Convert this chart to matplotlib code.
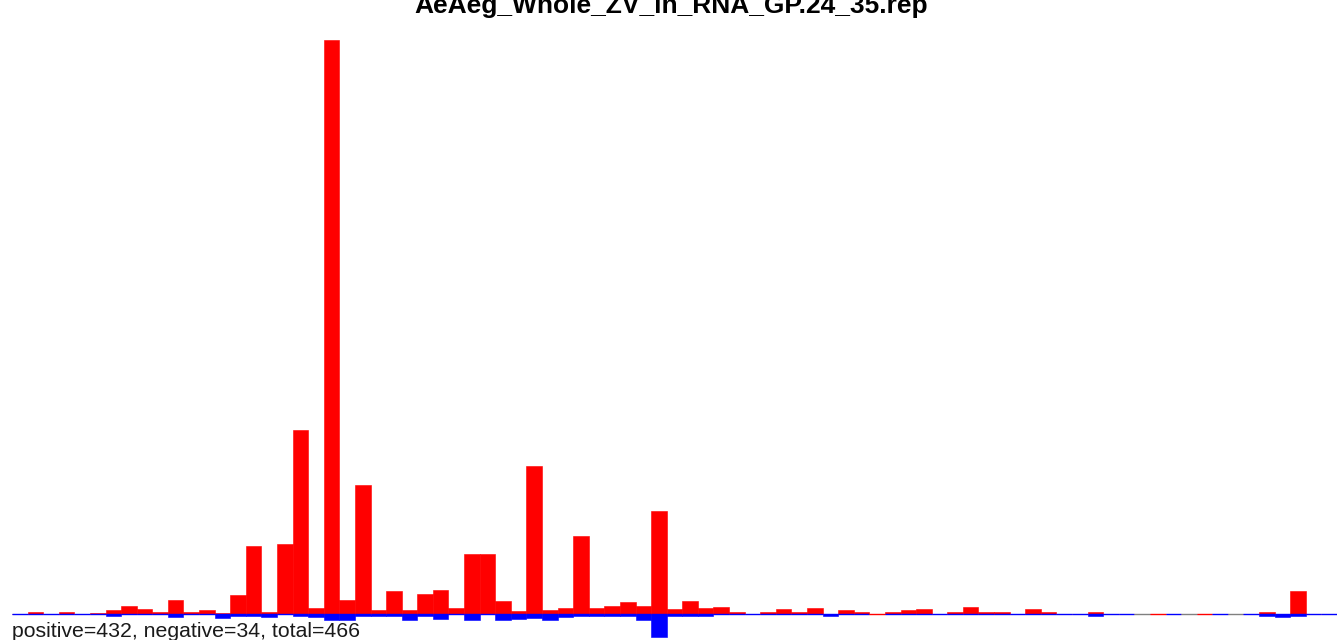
import numpy as np
import matplotlib
matplotlib.use("Agg")
import matplotlib.pyplot as plt

plt.rcParams['font.family'] = ['Liberation Sans', 'DejaVu Sans']

title = "AeAeg_Whole_ZV_lh_RNA_GP.24_35.rep"
summary = "positive=432, negative=34, total=466"

# bar heights (arbitrary units, no y axis shown), 85 bins
positive = [0, 2, 0, 2, 0, 1.5, 4, 8, 5, 2,
            14, 2, 4, 1.5, 19, 68, 2, 70, 184, 6,
            574, 14, 129, 4, 23, 4, 20, 24, 6, 60,
            60, 13, 3, 148, 4, 6, 78, 6, 8, 12,
            8, 103, 5, 13, 6, 7, 2, 0, 2, 5,
            2, 6, 0, 4, 2, 0.5, 2, 4, 5, 0,
            2, 7, 2, 2, 0, 5, 2, 0, 0, 2,
            0, 0, 0, 0, 0, 0, 0, 0, 0, 0,
            2, 0, 23, 0, 0]
negative = [0, 0, 0, 0, 0, 0, -2, 0, 0, 0,
            -3, 0, 0, -4, -1.5, -1.5, -3, 0, -1.5, -3,
            -6, -6, -1.5, -1.5, -1.5, -6, -1.5, -5, 0, -6,
            0, -6, -5, -4, -6, -3, -1.5, -1.5, -2, -1.5,
            -6, -23, -2, -2, -2, 0, 0, 0, 0, 0,
            0, 0, -2, 0, 0, 0, 0, 0, 0, 0,
            0, 0, 0, 0, 0, 0, 0, 0, 0, -1.5,
            0, 0, 0, 0, 0, 0, 0, 0, 0, 0,
            -1.5, -3, -1.5, 0, 0]
# bins where the baseline segment is not blue
gray_bins = [72, 75, 78]
red_line_bins = [55, 73, 76]

n = len(positive)
x = np.arange(n)

fig = plt.figure(figsize=(13.37, 6.4), dpi=100)
ax = fig.add_axes([12 / 1337, 0, 1 - 12 / 1337, 600 / 640])
ax.set_xlim(0, n)
ax.set_ylim(-26, 574)
ax.axis('off')

ax.bar(x, negative, width=1, align='edge', color='blue', edgecolor='blue', linewidth=0.4, zorder=2)
ax.bar(x, positive, width=1, align='edge', color='red', edgecolor='red', linewidth=0.4, zorder=3)

# baseline on top of the bars, one segment per bin
seg_colors = ['blue'] * n
for i in gray_bins:
    seg_colors[i] = 'gray'
for i in red_line_bins:
    seg_colors[i] = 'red'
ax.hlines(np.full(n, -0.4), x, x + 1, colors=seg_colors, linewidth=1.0, zorder=4)

fig.text(671 / 1337, 1 - 13 / 640, title, ha='center', va='baseline',
         fontsize=19, fontweight='bold')
fig.text(12 / 1337, 3 / 640, summary, ha='left', va='baseline',
         fontsize=15.3, color='#1a1a1a')

fig.savefig("out.png", dpi=100)
